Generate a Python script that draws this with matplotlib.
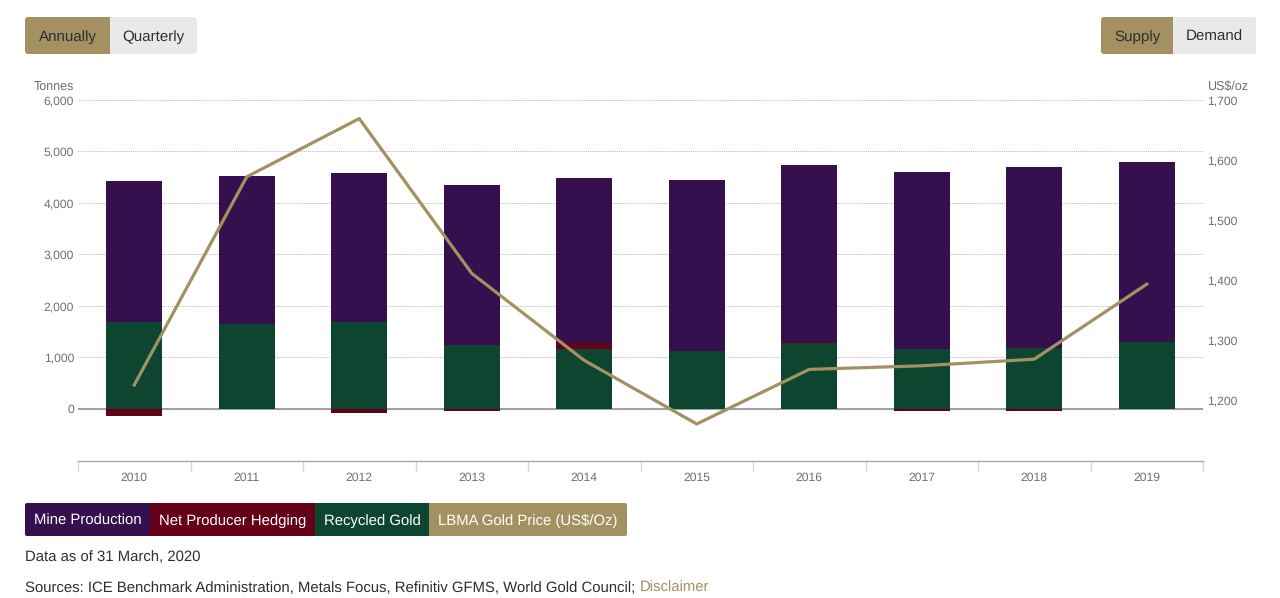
import matplotlib
matplotlib.use("Agg")
import matplotlib.pyplot as plt
from matplotlib.patches import FancyBboxPatch, Rectangle
import numpy as np

years = [2010, 2011, 2012, 2013, 2014, 2015, 2016, 2017, 2018, 2019]
mine = [2747, 2864, 2903, 3100, 3210, 3312, 3428, 3442, 3510, 3490]
hedging = [-130, -5, -75, -45, 105, 15, 30, -45, -30, 6]
recycled = [1680, 1660, 1680, 1250, 1170, 1120, 1280, 1160, 1180, 1300]
price = [1225, 1572, 1669, 1411, 1266, 1160, 1251, 1257, 1268, 1393]

left_ticks = [0, 1000, 2000, 3000, 4000, 5000, 6000]
right_ticks = [1200, 1300, 1400, 1500, 1600, 1700]

legend_names = ["Mine Production", "Net Producer Hedging", "Recycled Gold", "LBMA Gold Price (US$/Oz)"]

PURPLE = "#350f4e"
MAROON = "#640017"
GREEN = "#0e4531"
GOLD = "#a39161"
LIGHT = "#e9e9e9"
DARK = "#2b2f36"
GREY = "#6f6f6f"

W, H = 1280, 598
plt.rcParams["font.family"] = ["Liberation Sans", "DejaVu Sans"]
plt.rcParams["text.hinting"] = "no_hinting"
fig = plt.figure(figsize=(W / 100, H / 100), dpi=100, facecolor="white")

# axes box in pixels
x0, x1, ytop, ybot = 78, 1203, 100, 461
ax = fig.add_axes([x0 / W, 1 - ybot / H, (x1 - x0) / W, (ybot - ytop) / H])
ax.set_xlim(-0.5, 9.5)
ax.set_ylim(-1010, 6000)
ax.set_axisbelow(True)

x = np.arange(len(years))
rec = np.array(recycled)
hed = np.array(hedging)
pos = np.clip(hed, 0, None)
neg = np.clip(hed, None, 0)
ax.bar(x, rec, width=0.5, color=GREEN, zorder=3)
ax.bar(x, pos, bottom=rec, width=0.5, color=MAROON, zorder=3)
ax.bar(x, neg, width=0.5, color=MAROON, zorder=3)
ax.bar(x, mine, bottom=rec + pos, width=0.5, color=PURPLE, zorder=3)

for s in ["top", "left", "right"]:
    ax.spines[s].set_visible(False)
ax.spines["bottom"].set_color("#a8a8ae")
ax.spines["bottom"].set_linewidth(1)

ax.set_yticks(left_ticks)
ax.set_yticklabels(["{:,}".format(t) for t in left_ticks])
ax.tick_params(axis="y", length=0, pad=2.8, labelsize=8.7, labelcolor=GREY)
ax.grid(True, axis="y", color="#b8b8b8", linestyle=(0, (1, 1)), linewidth=0.7)
ax.axhline(0, color="#a0a0a0", linewidth=1.5, zorder=1)

ax.set_xticks(np.arange(-0.5, 10, 1))
ax.set_xticklabels([])
ax.set_xticks(x, minor=True)
ax.set_xticklabels([str(y) for y in years], minor=True)
ax.tick_params(axis="x", which="major", length=7.2, width=1, color="#ccd6eb")
ax.tick_params(axis="x", which="minor", length=0, pad=7.8, labelsize=8.7, labelcolor=GREY)

ax2 = ax.twinx()
ax2.set_ylim(1098.3, 1700)
ax2.set_yticks(right_ticks)
ax2.set_yticklabels(["{:,}".format(t) for t in right_ticks])
ax2.tick_params(axis="y", length=0, pad=2.8, labelsize=8.7, labelcolor=GREY)
for s in ax2.spines.values():
    s.set_visible(False)
ax2.plot(x, price, color=GOLD, linewidth=2.3, solid_joinstyle="round", zorder=5)

# everything outside the plot, in pixel coordinates
ov = fig.add_axes([0, 0, 1, 1], facecolor="none")
ov.set_xlim(0, W)
ov.set_ylim(H, 0)
ov.axis("off")


def segments(parts, y, h, size, radius=3):
    # parts: (label, x start, x end, fill, text colour)
    start, end = parts[0][1], parts[-1][2]
    outline = FancyBboxPatch((start + radius, y + radius), end - start - 2 * radius, h - 2 * radius,
                             boxstyle="round,pad={}".format(radius), facecolor="none", edgecolor="none")
    ov.add_patch(outline)
    for label, a, b, fill, col in parts:
        r = Rectangle((a, y), b - a, h, facecolor=fill, edgecolor="none")
        ov.add_patch(r)
        r.set_clip_path(outline)
        ov.text((a + b) / 2, y + h / 2 + 5, label, ha="center", va="baseline", color=col, fontsize=size)


segments([("Annually", 25, 110, GOLD, DARK), ("Quarterly", 110, 197, LIGHT, DARK)], 17, 37, 10.9)
segments([("Supply", 1101, 1173, GOLD, DARK), ("Demand", 1173, 1256, LIGHT, DARK)], 17, 37, 10.9)
segments([(legend_names[0], 25, 150, PURPLE, "white"),
          (legend_names[1], 150, 315, MAROON, "white"),
          (legend_names[2], 315, 429, GREEN, "white"),
          (legend_names[3], 429, 627, GOLD, "white")], 503, 33, 10.7, radius=2)

ov.text(74, 90.5, "Tonnes", ha="right", va="baseline", color=GREY, fontsize=9.0)
ov.text(1207, 90.5, "US$/oz", ha="left", va="baseline", color=GREY, fontsize=9.0)
ov.text(25, 561, "Data as of 31 March, 2020", ha="left", va="baseline", color=DARK, fontsize=10.7)
ov.text(25, 592, "Sources: ICE Benchmark Administration, Metals Focus, Refinitiv GFMS, World Gold Council;",
        ha="left", va="baseline", color=DARK, fontsize=10.7)
ov.text(640, 592, "Disclaimer", ha="left", va="baseline", color=GOLD, fontsize=10.7)

fig.savefig("out.png", dpi=100)
